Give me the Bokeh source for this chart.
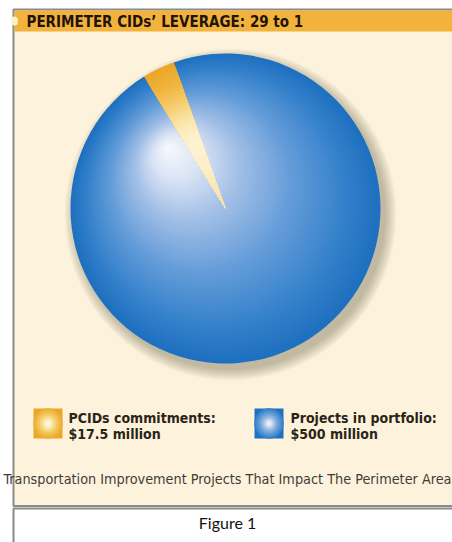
import numpy as np
from bokeh.plotting import figure
from bokeh.models import Range1d
from bokeh.core.properties import value
from bokeh.embed import file_html
from bokeh.resources import INLINE

# ---- data ----
title = "PERIMETER CIDs\u2019 LEVERAGE: 29 to 1"
categories = ["PCIDs commitments:", "Projects in portfolio:"]
amounts = ["$17.5 million", "$500 million"]
values = [17.5, 500.0]
caption = "Transportation Improvement Projects That Impact The Perimeter Area"
figure_label = "Figure 1"

# ---- styles ----
FONT = "DejaVu Sans Condensed"
W, H = 452, 542
p = figure(width=W, height=H, x_range=Range1d(0, 452), y_range=Range1d(0, 542),
           output_backend="svg", toolbar_location=None, min_border=0)
p.axis.visible = False
p.grid.visible = False
p.outline_line_color = None
p.background_fill_color = "white"
p.border_fill_color = "white"


def Y(py):
    return 542 - py


def interp(stops, t):
    ts = [s[0] for s in stops]
    out = []
    for ch in range(3):
        out.append(int(round(np.interp(t, ts, [s[1][ch] for s in stops]))))
    return "#%02x%02x%02x" % tuple(out)


blue_stops = [(0.0, (30, 112, 192)), (0.15, (50, 128, 202)), (0.4, (98, 155, 216)),
              (0.65, (160, 190, 230)), (0.85, (220, 229, 245)), (1.0, (248, 250, 253))]
yellow_stops = [(0.0, (236, 166, 40)), (0.25, (240, 180, 62)), (0.5, (245, 205, 110)),
                (0.7, (250, 228, 165)), (0.88, (253, 243, 215)), (1.0, (255, 250, 238))]

# panel
p.quad(left=13, right=470, top=Y(9), bottom=Y(505.5), fill_color="#FDF3DC",
       line_color="#8a8a8a", line_width=2)
# title bar
p.quad(left=14, right=470, top=Y(10), bottom=Y(31), fill_color="#F2B23C", line_color=None)
p.ellipse(x=14, y=Y(20.5), width=7, height=9, fill_color="#FDF0C8", line_color=None)
p.text(x=[26], y=[Y(21)], text=[title], text_font=value(FONT), text_font_size="15px",
       text_font_style="bold", text_baseline="middle", text_color="#1E140A")

# pie geometry
cx, cy, R = 225.0, Y(208), 155.0
fx, fy = 167.0, Y(147)
dvec = np.array([fx - cx, fy - cy])

total = sum(values)
start0 = np.deg2rad(109.5)
fr = np.array(values) / total
ends = start0 + 2 * np.pi * np.cumsum(fr)
starts = np.concatenate([[start0], ends[:-1]])

# shadow
for k in range(10):
    p.circle(x=cx + 5, y=cy - 6, radius=R + 1.2 * k, fill_color="#64553c",
             fill_alpha=0.045, line_color=None)

# base slices
p.wedge(x=cx, y=cy, radius=R, start_angle=starts, end_angle=ends,
        fill_color=["#ECA628", "#1E70C0"], line_color=None)

# radial (focal) gradient on the blue slice
N = 60
ts = np.arange(1, N) / N
p.circle(x=cx + ts * dvec[0], y=cy + ts * dvec[1], radius=R * (1 - ts),
         fill_color=[interp(blue_stops, t) for t in ts], line_color=None)


def tpar(px, py):
    q = np.array([px - cx, py - cy])
    a = dvec @ dvec - R * R
    b = 2 * (R * R - q @ dvec)
    c = q @ q - R * R
    disc = b * b - 4 * a * c
    roots = [(-b + s * np.sqrt(disc)) / (2 * a) for s in (1, -1)]
    roots = [r for r in roots if -1e-9 <= r <= 1 + 1e-9]
    return min(roots) if roots else 0.0


# yellow slice with the same gradient
mid = (starts[0] + ends[0]) / 2
rs = np.linspace(R, 3, 50)
ycols = [interp(yellow_stops, tpar(cx + r * np.cos(mid), cy + r * np.sin(mid))) for r in rs]
p.wedge(x=cx, y=cy, radius=rs, start_angle=starts[0], end_angle=ends[0],
        fill_color=ycols, line_color=None)

# legend
lx = [47.5, 268.5]
ly = Y(423)
for i, stops in enumerate([yellow_stops, blue_stops]):
    p.rect(x=lx[i], y=ly, width=29, height=30, fill_color=interp(stops, 0.0), line_color=None)
    kk = np.arange(0, 14) / 14
    p.ellipse(x=lx[i], y=ly, width=29 * (1 - kk) + 0.5, height=30 * (1 - kk) + 0.5,
              fill_color=[interp(stops, 0.15 + 0.85 * k) for k in kk], line_color=None)
tx = [68, 290]
p.text(x=tx, y=[Y(417)] * 2, text=categories, text_font=value(FONT), text_font_size="14px",
       text_font_style="bold", text_baseline="middle", text_color="#2A2418")
p.text(x=tx, y=[Y(433)] * 2, text=amounts, text_font=value(FONT), text_font_size="14px",
       text_font_style="bold", text_baseline="middle", text_color="#2A2418")

# caption
p.text(x=[227], y=[Y(478)], text=[caption], text_font=value(FONT), text_font_size="14.3px",
       text_align="center", text_baseline="middle", text_color="#3E3C38")

# figure box
p.quad(left=13, right=470, top=Y(508), bottom=Y(560), fill_color="white",
       line_color="#8a8a8a", line_width=2)
p.text(x=[227], y=[Y(522)], text=[figure_label], text_font=value("Lato"), text_font_size="16px",
       text_align="center", text_baseline="middle", text_color="#111111")

open("out.html", "w").write(file_html(p, INLINE))
